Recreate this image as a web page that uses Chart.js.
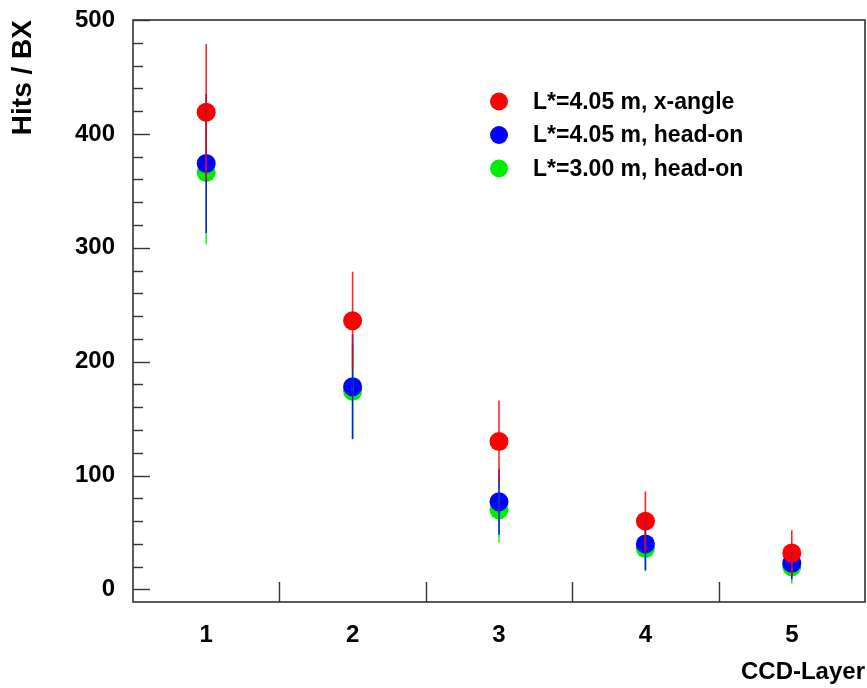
<!DOCTYPE html>
<html>
<head>
<meta charset="utf-8">
<script src="https://cdn.jsdelivr.net/npm/chart.js@4/dist/chart.umd.min.js"></script>
<style>
  html, body { margin: 0; padding: 0; background: #fff; }
  canvas { display: block; }
</style>
</head>
<body>
<canvas id="c" width="867" height="688"></canvas>
<script>
// ---- data ----
const layers = [1, 2, 3, 4, 5];
const xTickLabels = ["1", "2", "3", "4", "5"];
const yTickValues = [0, 100, 200, 300, 400, 500];

const seriesLabels = ["L*=4.05 m, x-angle", "L*=4.05 m, head-on", "L*=3.00 m, head-on"];
const xangle405 = [419, 236, 130, 60, 32];
const xangle405Err = [60, 43, 36, 26, 20];
const headon405 = [374, 178, 77, 40, 23];
const headon405Err = [61, 46, 29, 23, 14];
const headon300 = [366, 174, 70, 36, 20];
const headon300Err = [63, 42, 29, 20, 15];

const colors = ["#ff0000", "#0000ff", "#00ee00"];
const errs = [xangle405Err, headon405Err, headon300Err];
const vals = [xangle405, headon405, headon300];

const FONT = "'Liberation Sans', Arial, Helvetica, sans-serif";

function mkData(v) { return layers.map((x, i) => ({ x: x, y: v[i] })); }

const datasets = vals.map((v, k) => ({
  label: seriesLabels[k],
  data: mkData(v),
  errors: errs[k],
  backgroundColor: colors[k],
  borderColor: colors[k],
  borderWidth: 0,
  pointRadius: 9.5,
  pointHoverRadius: 9.5,
  showLine: false
}));

const framePlugin = {
  id: 'frame',
  afterDatasetsDraw(chart) {
    const ctx = chart.ctx;
    const xs = chart.scales.x, ys = chart.scales.y;
    const a = chart.chartArea;
    ctx.save();
    ctx.beginPath();
    ctx.rect(a.left, a.top, a.right - a.left, a.bottom - a.top);
    ctx.clip();
    for (let k = chart.data.datasets.length - 1; k >= 0; k--) {
      const ds = chart.data.datasets[k];
      ctx.strokeStyle = ds.borderColor;
      ctx.globalAlpha = 0.85;
      ctx.lineWidth = 1.6;
      ds.data.forEach((p, i) => {
        const px = xs.getPixelForValue(p.x);
        ctx.beginPath();
        ctx.moveTo(px, ys.getPixelForValue(p.y - ds.errors[i]));
        ctx.lineTo(px, ys.getPixelForValue(p.y + ds.errors[i]));
        ctx.stroke();
      });
    }
    ctx.restore();
  },
  afterDraw(chart) {
    const ctx = chart.ctx;
    const xs = chart.scales.x, ys = chart.scales.y;
    const a = chart.chartArea;
    ctx.save();
    ctx.strokeStyle = '#333';
    ctx.lineWidth = 1.6;
    ctx.strokeRect(a.left, a.top, a.right - a.left, a.bottom - a.top);
    ctx.lineWidth = 1.4;
    for (let v = 0; v <= 500; v += 20) {
      const py = Math.round(ys.getPixelForValue(v)) + 0.5;
      const len = (v % 100 === 0) ? 17 : 10;
      ctx.beginPath();
      ctx.moveTo(a.left, py);
      ctx.lineTo(a.left + len, py);
      ctx.stroke();
    }
    for (let v = 1.5; v < 5.5; v += 1) {
      const px = Math.round(xs.getPixelForValue(v)) + 0.5;
      ctx.beginPath();
      ctx.moveTo(px, a.bottom);
      ctx.lineTo(px, a.bottom - 20);
      ctx.stroke();
    }
    const lx = 499, ly0 = 101.5, dy = 33.5;
    ctx.font = 'bold 23px ' + FONT;
    ctx.textBaseline = 'middle';
    ctx.textAlign = 'left';
    chart.data.datasets.forEach((ds, k) => {
      const y = ly0 + k * dy;
      ctx.fillStyle = ds.backgroundColor;
      ctx.beginPath();
      ctx.arc(lx, y, 9, 0, Math.PI * 2);
      ctx.fill();
      ctx.fillStyle = '#000';
      ctx.fillText(ds.label, 533, y + 1);
    });
    ctx.restore();
  }
};

new Chart(document.getElementById('c'), {
  type: 'scatter',
  data: { datasets: datasets },
  options: {
    responsive: false,
    animation: false,
    events: [],
    layout: { autoPadding: false, padding: { top: 20, right: 2, left: 0, bottom: 0 } },
    plugins: { legend: { display: false }, tooltip: { enabled: false } },
    scales: {
      x: {
        type: 'linear',
        position: 'bottom',
        min: 0.5,
        max: 5.5,
        grid: { display: false, drawTicks: false },
        border: { display: false },
        afterBuildTicks: s => { s.ticks = layers.map(v => ({ value: v })); },
        afterFit: s => { s.height = 86; s.paddingLeft = 0; s.paddingRight = 0; },
        ticks: {
          color: '#000',
          padding: 19,
          font: { family: FONT, size: 24, weight: 'bold' },
          callback: (v) => xTickLabels[layers.indexOf(v)]
        },
        title: {
          display: true,
          text: 'CCD-Layer',
          align: 'end',
          color: '#000',
          font: { family: FONT, size: 24, weight: 'bold' },
          padding: { top: 0, bottom: 1 }
        }
      },
      y: {
        type: 'linear',
        min: -11,
        max: 500,
        grid: { display: false, drawTicks: false },
        border: { display: false },
        afterBuildTicks: s => { s.ticks = yTickValues.map(v => ({ value: v })); },
        afterFit: s => { s.width = 133; s.paddingTop = 0; s.paddingBottom = 0; },
        ticks: {
          color: '#000',
          padding: 18,
          font: { family: FONT, size: 24, weight: 'bold' }
        },
        title: {
          display: true,
          text: 'Hits / BX',
          align: 'end',
          color: '#000',
          font: { family: FONT, size: 28, weight: 'bold' },
          padding: { top: 6, bottom: 0 }
        }
      }
    }
  },
  plugins: [framePlugin]
});
</script>
</body>
</html>
